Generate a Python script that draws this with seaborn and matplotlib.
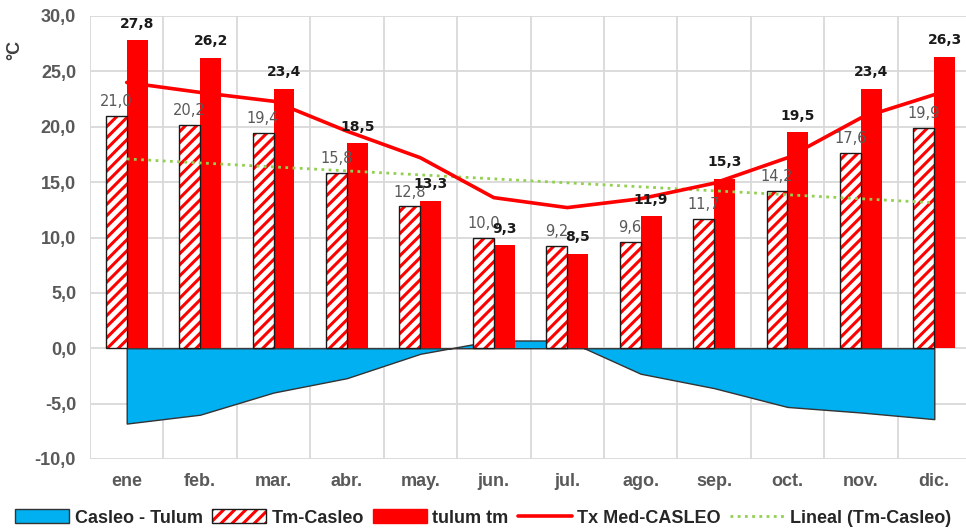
import numpy as np
import pandas as pd
import matplotlib
matplotlib.use('Agg')
import matplotlib.pyplot as plt
import seaborn as sns
from matplotlib.patches import Patch, Rectangle
from matplotlib.lines import Line2D
from matplotlib.legend_handler import HandlerTuple

meses = ['ene', 'feb.', 'mar.', 'abr.', 'may.', 'jun.', 'jul.', 'ago.', 'sep.', 'oct.', 'nov.', 'dic.']
tm_casleo = [21.0, 20.2, 19.4, 15.8, 12.8, 10.0, 9.2, 9.6, 11.7, 14.2, 17.6, 19.9]
tulum_tm = [27.8, 26.2, 23.4, 18.5, 13.3, 9.3, 8.5, 11.9, 15.3, 19.5, 23.4, 26.3]
tx_med_casleo = [24.0, 23.1, 22.3, 19.6, 17.2, 13.6, 12.7, 13.5, 14.9, 17.2, 20.8, 22.9]
casleo_tulum = [-6.8, -6.0, -4.0, -2.7, -0.5, 0.7, 0.7, -2.3, -3.6, -5.3, -5.8, -6.4]

sns.set_style('white')
plt.rcParams['font.family'] = ['Liberation Sans Narrow', 'Liberation Sans', 'DejaVu Sans']
plt.rcParams['hatch.linewidth'] = 2.2

gris = '#595959'
rojo = '#FF0000'
azul = '#00B0F0'
verde = '#92D050'

fig = plt.figure(figsize=(9.66, 5.29), dpi=100)
ax = fig.add_axes([90 / 966, 1 - 459 / 529, (971 - 90) / 966, (459 - 16) / 529])

x = np.arange(len(meses))

# area Casleo - Tulum (behind bars)
ax.fill_between(x, casleo_tulum, 0, facecolor=azul, edgecolor='#333333', lw=1, zorder=1)

# bars
df = pd.DataFrame({
    'mes': meses * 2,
    'serie': ['Tm-Casleo'] * 12 + ['tulum tm'] * 12,
    'valor': tm_casleo + tulum_tm,
})
sns.barplot(data=df, x='mes', y='valor', hue='serie', palette=['white', rojo],
            saturation=1, width=0.57, ax=ax, legend=False, zorder=2, linewidth=0)

hatched = ax.containers[0]
for bar in hatched:
    bar.set_facecolor('white')
    bar.set_edgecolor(rojo)
    bar.set_hatch('///')
    bar.set_linewidth(0)
    ax.add_patch(Rectangle(bar.get_xy(), bar.get_width(), bar.get_height(),
                           fill=False, edgecolor='#1a1a1a', lw=1, zorder=2.5))

# lines
sns.regplot(x=x, y=tm_casleo, scatter=False, ci=None, ax=ax,
            line_kws=dict(color=verde, lw=2, ls=(0, (1, 1.6)), zorder=4))
sns.lineplot(x=x, y=tx_med_casleo, color=rojo, lw=2.6, ax=ax, zorder=5)

# data labels
fmt = lambda v: f'{v:.1f}'.replace('.', ',')
ax.bar_label(ax.containers[0], labels=[fmt(v) for v in tm_casleo], padding=5,
             fontsize=10.5, color=gris, family='DejaVu Sans', zorder=6)
ax.bar_label(ax.containers[1], labels=[fmt(v) for v in tulum_tm], padding=7,
             fontsize=10, color='#1a1a1a', fontweight='bold', family='DejaVu Sans', zorder=6)

# axes
ax.set_xlim(-0.5, 11.5)
ax.set_ylim(-10, 30)
ax.set_yticks(np.arange(-10, 31, 5))
ax.set_yticklabels([fmt(v) for v in np.arange(-10, 31, 5)])
ax.set_xticks(x)
ax.set_xticklabels(meses)
ax.set_xticks(np.arange(-0.5, 12, 1), minor=True)
ax.set_xlabel('')
ax.set_ylabel('')
ax.grid(axis='y', color='#d9d9d9', lw=1.3)
ax.grid(axis='x', which='minor', color='#d9d9d9', lw=1.3)
ax.grid(axis='x', which='major', visible=False)
ax.set_axisbelow(True)
for s in ax.spines.values():
    s.set_visible(False)
ax.tick_params(axis='both', which='both', length=0)
ax.tick_params(axis='y', labelsize=13, labelcolor=gris, pad=10)
ax.tick_params(axis='x', labelsize=13, labelcolor=gris, pad=10)
for t in ax.get_xticklabels() + ax.get_yticklabels():
    t.set_fontweight('bold')

fig.text(15 / 966, 1 - 50 / 529, '°C', rotation=90, ha='center', va='center',
         fontsize=13, fontweight='bold', color='#404040')

# legend
handles = [
    Patch(facecolor=azul, edgecolor='#333333', lw=1),
    (Patch(facecolor='white', edgecolor=rojo, hatch='///', lw=0),
     Patch(fill=False, edgecolor='#1a1a1a', lw=1)),
    Patch(facecolor=rojo, edgecolor=rojo),
    Line2D([], [], color=rojo, lw=2.6),
    Line2D([], [], color=verde, lw=2, ls=(0, (1, 1.6))),
]
labels = ['Casleo - Tulum', 'Tm-Casleo', 'tulum tm', 'Tx Med-CASLEO', 'Lineal (Tm-Casleo)']
leg = fig.legend(handles, labels, loc='center', bbox_to_anchor=(0.5, 1 - 518 / 529),
                 ncol=5, frameon=False, handlelength=3.0, handleheight=0.8,
                 columnspacing=0.5, handletextpad=0.3,
                 handler_map={tuple: HandlerTuple(ndivide=1, pad=0)},
                 prop=dict(size=13, weight='bold'))
for t in leg.get_texts():
    t.set_color('#262626')

fig.savefig('out.png', dpi=100)
